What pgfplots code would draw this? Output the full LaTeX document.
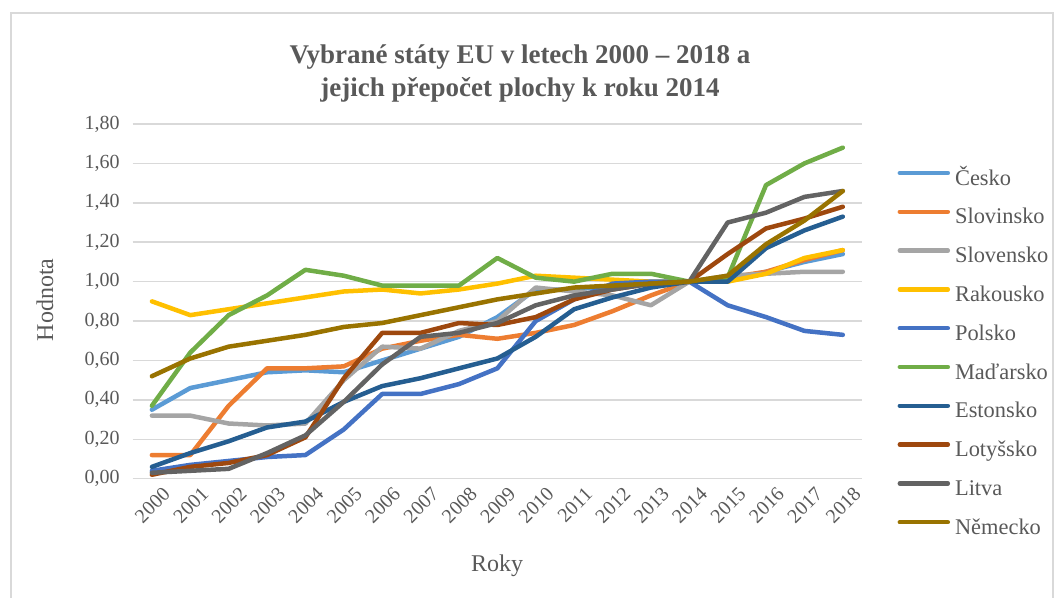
\documentclass[border=0pt]{standalone}
\usepackage{fontspec}
\setmainfont{Liberation Serif}
\usepackage{pgfplots}
\pgfplotsset{compat=1.18}
\usepackage{pgfplotstable}
\definecolor{txt}{HTML}{595959}
\definecolor{gridc}{HTML}{D9D9D9}
\definecolor{cCesko}{HTML}{5B9BD5}
\definecolor{cSlovinsko}{HTML}{ED7D31}
\definecolor{cSlovensko}{HTML}{A5A5A5}
\definecolor{cRakousko}{HTML}{FFC000}
\definecolor{cPolsko}{HTML}{4472C4}
\definecolor{cMadarsko}{HTML}{70AD47}
\definecolor{cEstonsko}{HTML}{255E91}
\definecolor{cLotyssko}{HTML}{9E480E}
\definecolor{cLitva}{HTML}{636363}
\definecolor{cNemecko}{HTML}{997300}

\pgfplotstableread{
year Cesko Slovinsko Slovensko Rakousko Polsko Madarsko Estonsko Lotyssko Litva Nemecko
2000 0.35 0.12 0.32 0.90 0.04 0.37 0.06 0.02 0.03 0.52
2001 0.46 0.12 0.32 0.83 0.07 0.64 0.13 0.06 0.04 0.61
2002 0.50 0.37 0.28 0.86 0.09 0.83 0.19 0.08 0.05 0.67
2003 0.54 0.56 0.27 0.89 0.11 0.93 0.26 0.12 0.13 0.70
2004 0.55 0.56 0.28 0.92 0.12 1.06 0.29 0.21 0.22 0.73
2005 0.54 0.57 0.50 0.95 0.25 1.03 0.39 0.51 0.39 0.77
2006 0.60 0.66 0.67 0.96 0.43 0.98 0.47 0.74 0.58 0.79
2007 0.66 0.70 0.66 0.94 0.43 0.98 0.51 0.74 0.72 0.83
2008 0.72 0.73 0.75 0.96 0.48 0.98 0.56 0.79 0.74 0.87
2009 0.82 0.71 0.80 0.99 0.56 1.12 0.61 0.78 0.79 0.91
2010 0.96 0.74 0.97 1.03 0.80 1.02 0.72 0.82 0.88 0.94
2011 0.96 0.78 0.95 1.02 0.91 1.00 0.86 0.91 0.93 0.97
2012 0.98 0.85 0.93 1.01 0.99 1.04 0.92 0.96 0.96 0.98
2013 0.99 0.93 0.88 1.00 1.00 1.04 0.97 0.99 0.99 0.99
2014 1.00 1.00 1.00 1.00 1.00 1.00 1.00 1.00 1.00 1.00
2015 1.01 1.02 1.03 1.00 0.88 1.02 1.00 1.14 1.30 1.03
2016 1.05 1.05 1.04 1.04 0.82 1.49 1.17 1.27 1.35 1.19
2017 1.10 1.11 1.05 1.12 0.75 1.60 1.26 1.32 1.43 1.31
2018 1.14 1.16 1.05 1.16 0.73 1.68 1.33 1.38 1.46 1.46
}\datatable

\begin{document}
\begin{tikzpicture}
\useasboundingbox (0pt,0pt) rectangle (527.5pt,299pt);
\draw[gridc, line width=0.6pt] (5.5pt,0pt) -- (5.5pt,292.5pt) -- (526.5pt,292.5pt) -- (526.5pt,0pt);
\node[text=txt, font=\fontsize{13.5}{16.5}\selectfont\bfseries, align=center] at (260pt,262pt)
  {Vybrané státy EU v letech 2000 – 2018 a\\jejich přepočet plochy k roku 2014};
\begin{axis}[
  at={(66.35pt,59.65pt)}, anchor=south west,
  scale only axis, width=364.65pt, height=177.35pt,
  xmin=1999.5, xmax=2018.5, ymin=0, ymax=1.8,
  xtick={2000,...,2018},
  ytick={0,0.2,...,1.8},
  axis line style={draw=none},
  major tick length=0pt,
  ymajorgrids, xmajorgrids=false, grid style={gridc, line width=0.75pt},
  every tick label/.append style={text=txt, font=\fontsize{10}{12}\selectfont},
  /pgf/number format/assume math mode=true,
  xticklabel style={/pgf/number format/1000 sep=, rotate=45, anchor=north east, inner sep=1pt, xshift=2pt, yshift=-5pt},
  yticklabel style={/pgf/number format/.cd, fixed, fixed zerofill, precision=2, use comma, /tikz/.cd, xshift=-3pt},
  xlabel={Roky}, ylabel={Hodnota},
  every axis y label/.style={at={(-43.85pt,89.35pt)}, rotate=90, anchor=center, text=txt, font=\fontsize{12}{14}\selectfont},
  every axis x label/.style={at={(182.15pt,-43.5pt)}, anchor=center, text=txt, font=\fontsize{12}{14}\selectfont},
  legend style={at={(1.040,0.912)}, anchor=north west, draw=none, fill=none,
    font=\fontsize{11.2}{13}\selectfont, text=txt, row sep=0pt,
    nodes={inner sep=0pt, text height=12.7pt, text depth=6.7pt, anchor=west}},
  legend cell align=left,
  legend image code/.code={\draw[#1, line width=2.25pt, line cap=round] (0pt,3pt) -- (24pt,3pt);},
  /tikz/every odd column/.append style={column sep=2.5pt},
  every axis plot/.append style={line width=2.25pt, line join=round, line cap=round, mark=none},
]
\addplot[cCesko] table[x=year,y=Cesko]{\datatable};
\addlegendentry{Česko}
\addplot[cSlovinsko] table[x=year,y=Slovinsko]{\datatable};
\addlegendentry{Slovinsko}
\addplot[cSlovensko] table[x=year,y=Slovensko]{\datatable};
\addlegendentry{Slovensko}
\addplot[cRakousko] table[x=year,y=Rakousko]{\datatable};
\addlegendentry{Rakousko}
\addplot[cPolsko] table[x=year,y=Polsko]{\datatable};
\addlegendentry{Polsko}
\addplot[cMadarsko] table[x=year,y=Madarsko]{\datatable};
\addlegendentry{Maďarsko}
\addplot[cEstonsko] table[x=year,y=Estonsko]{\datatable};
\addlegendentry{Estonsko}
\addplot[cLotyssko] table[x=year,y=Lotyssko]{\datatable};
\addlegendentry{Lotyšsko}
\addplot[cLitva] table[x=year,y=Litva]{\datatable};
\addlegendentry{Litva}
\addplot[cNemecko] table[x=year,y=Nemecko]{\datatable};
\addlegendentry{Německo}
\end{axis}
\end{tikzpicture}
\end{document}
